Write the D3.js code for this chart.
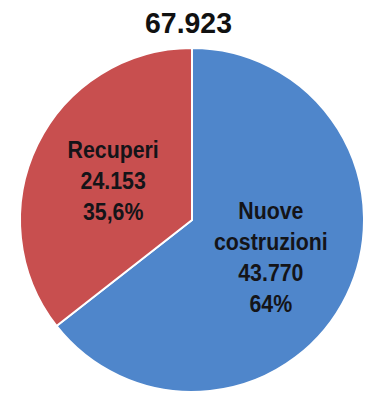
<!DOCTYPE html>
<html>
<head>
<meta charset="utf-8">
<script src="https://cdn.jsdelivr.net/npm/d3@7"></script>
<style>
  html, body { margin: 0; padding: 0; background: #ffffff; }
  svg { display: block; }
  text { font-family: "Liberation Sans", Arial, sans-serif; font-weight: bold; }
</style>
</head>
<body>
<svg id="chart" width="371" height="394"></svg>
<script>
// Totale e ripartizione per tipo di intervento
const totalLabel = "67.923";
const categories = ["Nuove costruzioni", "Recuperi"];
const values = [43770, 24153];
const valueLabels = ["43.770", "24.153"];
const percentLabels = ["64%", "35,6%"];
const labelLines = [["Nuove", "costruzioni"], ["Recuperi"]];
const colors = ["#4f86cb", "#c84f4f"];

const width = 371, height = 394;
const cx = 192, cy = 220, radius = 172;

const svg = d3.select("#chart");

svg.append("text")
  .attr("transform", "translate(188.5,33) scale(0.98,1.04)")
  .attr("text-anchor", "middle")
  .attr("font-size", 29)
  .attr("fill", "#111")
  .text(totalLabel);

const data = categories.map((c, i) => ({
  name: c, value: values[i], valueLabel: valueLabels[i],
  pct: percentLabels[i], lines: labelLines[i], color: colors[i]
}));

const pie = d3.pie().sort(null).value(d => d.value);
const arcs = pie(data);

const arc = d3.arc().innerRadius(0).outerRadius(radius);
const labelArc = d3.arc().innerRadius(radius * 0.51).outerRadius(radius * 0.51);

const g = svg.append("g").attr("transform", `translate(${cx},${cy})`);

g.selectAll("path.slice")
  .data(arcs)
  .enter().append("path")
  .attr("class", "slice")
  .attr("d", arc)
  .attr("fill", d => d.data.color)
  .attr("stroke", "#ffffff")
  .attr("stroke-width", 2)
  .attr("stroke-linejoin", "round");

// Slice labels: name, value and percentage stacked on the slice centroid
const lineH = 31;
arcs.forEach(a => {
  const [lx, ly] = labelArc.centroid(a);
  const lines = a.data.lines.concat([a.data.valueLabel, a.data.pct]);
  const n = lines.length;
  lines.forEach((ln, i) => {
    const y = ly + (i - (n - 1) / 2) * lineH + 7;
    g.append("text")
      .attr("transform", `translate(${lx},${y}) scale(0.97,1.08)`)
      .attr("text-anchor", "middle")
      .attr("font-size", 22)
      .attr("fill", "#141418")
      .text(ln);
  });
});
</script>
</body>
</html>
